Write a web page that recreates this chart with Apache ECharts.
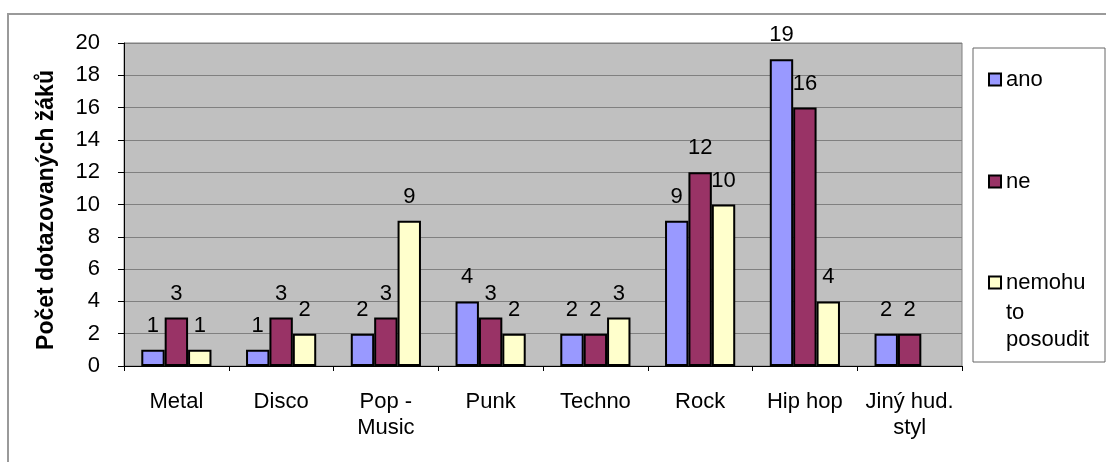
<!DOCTYPE html>
<html>
<head>
<meta charset="utf-8">
<script src="https://cdn.jsdelivr.net/npm/echarts@6/dist/echarts.min.js"></script>
<style>
html,body{margin:0;padding:0;background:#fff;}
#chart{width:1106px;height:462px;}
</style>
</head>
<body>
<div id="chart"></div>
<script>
const categories = ['Metal', 'Disco', 'Pop -\nMusic', 'Punk', 'Techno', 'Rock', 'Hip hop', 'Jiný hud.\nstyl'];
const seriesNames = ['ano', 'ne', 'nemohu to posoudit'];
const ano = [1, 1, 2, 4, 2, 9, 19, 2];
const ne = [3, 3, 3, 3, 2, 12, 16, 2];
const nemohu = [1, 2, 9, 2, 3, 10, 4, null];
const yTicks = { min: 0, max: 20, interval: 2 };
const yTitle = 'Počet dotazovaných žáků';
const legendFirstLine = 'nemohu';
const legendRestLines = 'to\nposoudit';

const FONT = '"Liberation Sans", Arial, sans-serif';
const FS = 22;
const colors = ['#9999FF', '#993366', '#FFFFCC'];
const values = [ano, ne, nemohu];

const chart = echarts.init(document.getElementById('chart'), null, { renderer: 'canvas' });

function mkSeries(i) {
  return {
    name: seriesNames[i],
    type: 'bar',
    data: values[i],
    barGap: '0%',
    barCategoryGap: '33%',
    itemStyle: { color: colors[i], borderColor: '#000', borderWidth: 2 },
    label: {
      show: true, position: 'top', distance: 13,
      color: '#000', fontFamily: FONT, fontSize: FS
    },
    emphasis: { disabled: true },
    animation: false
  };
}

function mkLegend(i, top, formatter) {
  return {
    data: [seriesNames[i]],
    left: 988, top: top,
    orient: 'vertical',
    padding: 0,
    selectedMode: false,
    icon: 'rect',
    itemWidth: 12, itemHeight: 12,
    itemStyle: { borderColor: '#000', borderWidth: 2 },
    formatter: formatter,
    textStyle: { fontFamily: FONT, fontSize: FS, color: '#000', lineHeight: 27 }
  };
}

chart.setOption({
  animation: false,
  backgroundColor: '#fff',
  textStyle: { fontFamily: FONT },
  graphic: [
    { type: 'rect', shape: { x: 8, y: 14, width: 1200, height: 500 }, style: { fill: 'none', stroke: '#9a9a9a', lineWidth: 2 }, silent: true, z: -10 },
    { type: 'rect', shape: { x: 973, y: 48, width: 132, height: 314 }, style: { fill: '#fff', stroke: '#666', lineWidth: 1 }, silent: true, z: -5 },
    { type: 'text', left: 1006, top: 299, silent: true, z: 10,
      style: { text: legendRestLines, fill: '#000', font: FS + 'px ' + FONT, lineHeight: 27 } }
  ],
  grid: {
    left: 124, top: 43, right: 144, bottom: 96,
    show: true, backgroundColor: '#C0C0C0', borderColor: '#808080', borderWidth: 1
  },
  legend: [
    mkLegend(0, 66, null),
    mkLegend(1, 168, null),
    mkLegend(2, 269, function () { return legendFirstLine; })
  ],
  xAxis: {
    type: 'category',
    data: categories,
    axisLine: { show: true, lineStyle: { color: '#000', width: 1 } },
    axisTick: { show: true, length: 5, lineStyle: { color: '#000' } },
    axisLabel: { color: '#000', fontFamily: FONT, fontSize: FS, margin: 23, lineHeight: 26, interval: 0 },
    splitLine: { show: false }
  },
  yAxis: {
    type: 'value',
    min: yTicks.min, max: yTicks.max, interval: yTicks.interval,
    name: yTitle,
    nameLocation: 'middle',
    nameGap: 66,
    nameTextStyle: { fontFamily: FONT, fontSize: 23, fontWeight: 'bold', color: '#000', padding: [0, 11, 0, 0] },
    axisLine: { show: true, lineStyle: { color: '#000', width: 1 } },
    axisTick: { show: true, length: 6, lineStyle: { color: '#000' } },
    axisLabel: { color: '#000', fontFamily: FONT, fontSize: FS, margin: 24 },
    splitLine: { show: true, lineStyle: { color: '#808080', width: 1 } }
  },
  series: [mkSeries(0), mkSeries(1), mkSeries(2)]
});
</script>
</body>
</html>
